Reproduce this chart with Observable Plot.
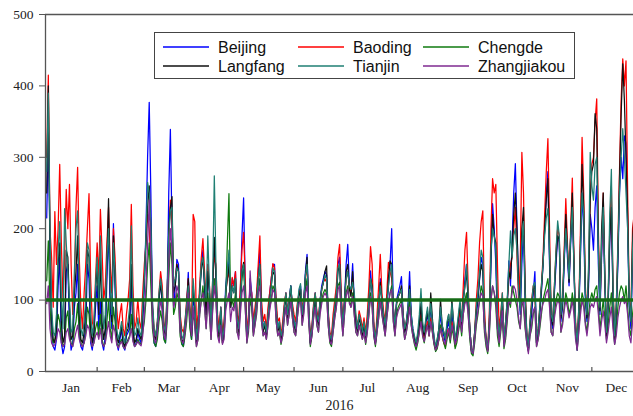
<!DOCTYPE html>
<html><head><meta charset="utf-8">
<script src="https://cdn.jsdelivr.net/npm/d3@7"></script>
<script src="https://cdn.jsdelivr.net/npm/@observablehq/plot@0.6"></script>
<style>
html,body{margin:0;padding:0;background:#fff;overflow:hidden}
#chart{width:633px;height:416px;position:relative}
</style>
</head><body><div id="chart"></div>
<script>
const cities = ["Beijing","Baoding","Chengde","Langfang","Tianjin","Zhangjiakou"];
const cityColors = ["#0000ff","#ff0000","#0f7a0f","#111111","#1f7f73","#7f2a91"];
const monthLabels = ["Jan","Feb","Mar","Apr","May","Jun","Jul","Aug","Sep","Oct","Nov","Dec"];
const yTicks = [0,100,200,300,400,500];
const threshold = 100;
const yearLabel = "2016";

const beijing = [
215,330,180,60,35,30,45,120,160,40,25,35,140,150,60,30,40,90,110,150,50,35,30,45,60,150,130,40,30,50,90,
120,60,100,40,30,50,130,200,90,60,207,120,40,30,45,60,35,30,50,55,60,130,55,35,40,55,45,40,70,
120,200,300,377,250,80,40,35,60,100,130,90,50,40,100,250,339,200,90,120,157,150,60,40,35,60,90,139,70,45,100,
90,40,60,110,150,170,120,80,150,110,60,120,180,140,70,55,90,45,60,120,143,160,90,130,120,140,70,60,110,190,
243,120,45,70,130,110,60,80,100,140,170,90,60,70,55,80,110,130,150,150,90,60,70,45,60,90,110,80,100,120,90,
70,60,90,110,120,80,100,140,164,90,40,60,90,110,80,70,100,120,130,140,135,80,50,40,70,90,110,150,160,100,
60,100,150,178,120,110,151,100,70,60,80,70,55,70,45,70,100,141,110,60,40,70,90,130,100,80,60,90,120,150,200,
90,60,100,110,120,133,80,55,70,90,140,80,60,45,35,50,70,90,60,50,70,80,60,90,70,45,30,40,55,80,60,
50,40,60,70,50,80,60,40,50,70,90,60,100,130,150,100,60,30,25,50,80,100,130,160,150,70,45,30,60,150,
235,200,150,60,45,70,100,40,60,90,155,120,180,250,291,200,120,80,150,200,100,50,30,60,80,110,140,40,50,80,110,
150,200,250,280,150,70,60,110,150,190,180,70,90,150,210,160,120,180,230,150,60,30,80,160,250,200,100,70,120,220,
200,170,230,260,150,80,160,220,120,50,90,180,240,100,40,80,150,250,300,270,330,320,200,90,60,150,200,120,80,60,90];

const baoding = [
300,415,200,160,90,224,150,200,290,180,100,160,255,200,262,150,80,120,230,286,160,90,60,110,150,200,249,130,70,60,130,
180,130,227,170,100,120,180,230,150,110,200,160,90,60,80,95,60,50,80,100,130,234,120,60,70,101,70,60,110,
150,180,220,200,150,90,60,50,70,110,140,120,70,55,110,180,240,210,120,130,150,140,80,60,55,70,100,130,90,60,220,
210,60,80,120,160,186,140,100,150,120,70,130,160,150,80,60,90,55,70,110,130,140,100,132,120,140,80,70,120,170,
195,130,55,80,120,110,70,90,110,150,190,100,70,80,60,90,110,130,151,145,100,70,75,50,70,95,110,85,100,115,95,
80,70,95,110,115,90,100,130,150,90,50,65,95,110,85,75,100,115,125,130,125,85,55,50,80,100,120,160,178,110,
70,100,130,140,120,110,130,100,75,65,85,75,60,75,55,80,120,175,150,70,45,80,120,164,110,85,70,110,153,140,130,
90,65,95,105,110,115,80,60,70,85,110,75,55,45,40,50,65,80,55,45,60,70,50,75,60,40,30,35,45,65,50,
40,35,55,60,45,70,55,35,45,65,90,70,120,170,195,120,60,30,28,55,100,130,180,210,225,90,45,30,80,200,
270,250,262,150,60,80,110,45,70,100,130,150,160,200,230,160,100,150,307,250,120,55,35,70,100,120,110,45,60,90,120,
160,220,280,326,200,80,70,120,170,200,190,80,100,170,242,180,130,200,271,160,70,40,90,200,328,250,120,80,140,250,
290,300,350,382,200,90,170,250,130,60,100,200,260,120,50,90,180,280,380,438,400,435,250,100,80,200,220,150,90,70,100];

const chengde = [
127,183,90,50,40,45,60,80,70,45,35,40,75,85,50,40,35,60,70,95,55,40,35,40,55,90,80,45,35,40,60,
70,50,80,45,35,40,70,100,60,45,90,70,40,35,40,45,35,32,40,45,50,80,45,35,38,45,40,38,55,
70,100,150,180,120,60,40,35,45,70,85,70,45,40,70,130,180,150,80,90,110,100,50,38,35,50,70,100,60,45,80,
70,35,45,80,100,120,90,60,110,80,45,90,130,100,55,45,70,40,50,100,180,249,90,100,90,110,55,50,90,130,
150,90,40,55,100,90,50,65,80,110,130,70,50,55,45,65,90,100,120,115,70,50,55,38,50,75,90,65,80,100,75,
55,50,75,95,105,65,85,115,130,70,35,50,75,95,65,55,85,100,110,115,110,65,40,35,55,75,90,120,125,80,
50,80,110,120,100,90,110,80,55,50,65,55,45,55,38,55,80,110,90,50,35,55,75,100,80,65,50,75,95,110,120,
70,50,80,90,95,100,65,45,55,70,100,65,50,38,30,40,55,75,50,40,55,65,50,70,55,38,28,32,45,65,50,
40,32,45,55,40,60,50,32,40,55,70,50,80,100,110,80,45,25,22,40,65,80,100,120,110,55,35,25,50,100,
120,110,90,50,35,55,80,32,45,70,100,90,120,110,100,90,70,60,100,90,60,40,28,50,60,80,90,35,45,60,80,
100,110,120,130,100,55,50,80,100,110,105,55,70,90,110,100,80,90,110,90,50,30,60,90,110,100,70,55,80,100,
110,100,115,120,90,60,80,100,75,45,65,90,110,70,38,60,90,110,120,115,100,120,90,60,50,80,100,80,60,50,70];

const langfang = [
250,400,170,80,45,40,60,150,180,70,40,50,170,160,90,45,50,110,140,190,80,45,40,55,90,170,160,60,40,55,110,
150,80,160,70,45,60,150,242,110,70,190,130,50,40,50,65,40,35,55,60,80,150,60,40,45,60,50,45,80,
130,180,230,260,200,90,50,45,65,100,125,100,60,50,100,200,230,245,110,120,150,140,70,45,40,65,90,130,80,50,120,
90,40,60,110,140,160,120,80,140,110,55,120,188,130,65,50,85,40,55,110,130,150,90,120,110,130,70,55,100,140,
153,110,45,65,120,100,55,75,100,130,150,80,55,65,50,75,100,120,140,135,85,55,65,45,55,85,105,75,95,120,85,
65,55,85,105,115,75,95,135,160,85,40,55,85,105,75,65,95,115,125,140,148,75,45,40,65,85,105,140,150,95,
60,95,140,150,115,105,140,95,65,55,75,65,50,65,45,65,95,130,120,55,40,65,90,125,95,75,60,90,130,155,150,
85,60,95,105,110,120,75,55,65,85,120,75,55,45,38,50,65,95,60,50,70,85,60,110,75,45,32,45,60,101,65,
55,45,65,80,55,100,70,45,55,75,95,65,100,120,140,100,60,30,28,55,85,105,130,150,140,70,45,30,65,160,
220,190,180,70,45,70,100,40,65,95,140,130,170,220,250,200,120,90,200,230,110,50,30,65,90,115,120,40,55,85,115,
150,200,240,270,160,75,65,115,160,190,185,75,95,160,220,170,125,190,250,150,60,35,85,180,290,230,110,75,130,240,
280,290,361,340,180,85,200,250,130,50,95,190,230,110,43,85,160,270,360,431,380,300,220,95,70,180,225,150,90,65,95];

const tianjin = [
280,390,200,90,55,50,80,170,210,100,60,228,180,140,100,55,60,140,200,225,110,60,50,70,100,180,170,80,50,70,120,
160,100,190,110,60,80,160,200,120,80,180,140,60,45,55,70,50,40,60,70,90,204,80,50,55,75,55,50,90,
130,190,265,250,210,100,60,50,70,110,130,110,65,55,110,190,225,230,120,130,145,140,75,50,45,70,95,120,85,55,130,
95,45,65,110,150,160,130,100,190,120,60,130,274,150,70,55,90,45,60,110,140,170,100,120,110,130,75,60,100,140,
150,110,50,70,120,105,60,80,100,130,150,85,60,70,55,80,100,120,145,140,90,60,70,50,60,90,110,80,100,120,90,
70,60,90,115,123,80,100,135,150,90,45,60,90,110,80,70,100,115,125,135,130,80,50,45,70,90,110,145,150,100,
65,100,130,140,120,115,125,110,80,60,80,70,55,70,50,70,100,130,115,65,45,70,95,120,100,80,65,95,120,140,150,
90,65,95,105,110,115,80,60,70,90,115,80,60,50,40,55,80,116,70,55,75,90,65,95,70,50,35,45,60,90,65,
55,45,70,80,55,95,70,45,60,80,100,70,100,120,150,110,60,30,28,55,90,110,140,170,160,75,45,32,70,170,
200,190,170,80,50,75,110,45,70,100,150,197,160,190,200,170,110,85,180,210,110,55,35,70,95,120,125,45,60,90,120,
150,190,215,228,170,80,70,120,170,211,190,80,100,160,200,170,130,190,230,150,65,40,90,170,250,220,110,80,150,307,
260,240,290,300,170,90,180,230,130,55,100,220,283,120,50,90,170,250,300,340,300,250,200,100,70,170,210,140,90,70,95];

const zhangjiakou = [
95,120,60,40,35,38,45,60,55,40,35,38,55,60,45,38,35,45,55,65,45,38,35,40,50,65,60,45,35,40,50,
55,45,60,40,35,40,55,70,50,40,65,55,38,33,38,42,35,32,38,42,48,60,42,35,38,42,38,36,50,
80,120,180,240,160,70,45,40,55,80,100,85,50,45,80,150,200,170,90,100,120,110,55,42,40,55,80,110,70,50,90,
60,35,45,80,100,110,90,60,100,80,45,85,120,100,50,40,65,38,45,85,100,110,70,90,85,100,55,45,80,110,
120,90,40,60,141,100,50,65,85,110,120,70,50,55,45,65,85,100,115,110,70,50,55,40,50,75,90,65,80,100,75,
55,50,75,95,100,65,80,110,120,70,38,50,75,90,65,55,80,95,105,110,105,65,42,38,55,75,90,115,120,80,
50,80,105,115,95,90,105,80,55,50,65,55,45,55,40,55,80,105,90,50,38,55,75,100,80,65,50,75,95,110,115,
70,50,75,85,90,95,65,45,55,70,90,65,50,40,35,42,55,70,50,42,55,65,50,70,55,40,30,35,45,60,50,
42,38,50,60,45,65,55,38,45,60,75,55,80,95,100,80,50,28,25,45,70,85,100,110,105,60,40,28,55,100,
120,110,100,60,40,60,85,35,50,75,100,95,110,120,115,100,75,60,95,100,65,40,25,50,65,85,90,35,45,65,85,
95,100,110,115,90,55,50,75,90,100,95,55,65,85,100,90,75,85,100,80,45,30,55,80,100,90,65,50,70,90,
95,90,100,105,80,50,70,85,65,40,55,75,90,60,38,50,75,90,100,105,95,100,80,50,40,70,85,65,50,40,60];

const series = [beijing, baoding, chengde, langfang, tianjin, zhangjiakou];
const DAY = 864e5;
const t0 = Date.UTC(2016, 0, 1);
const dateOf = i => new Date(t0 + i * DAY);

const rows = [];
series.forEach((vals, k) => vals.forEach((v, i) => rows.push({city: cities[k], date: dateOf(i), value: v})));

const monthStarts = d3.range(1, 12).map(m => new Date(Date.UTC(2016, m, 1)));
const midMonths = d3.range(0, 12).map(m => new Date(Date.UTC(2016, m, 16)));
const xDomain = [new Date(t0 - 0.74 * DAY), new Date(t0 + 360.6 * DAY)];

const H = 416, MT = 14, MB = 45;
const chart = Plot.plot({
  width: 633,
  height: H,
  marginLeft: 45,
  marginRight: 0,
  marginTop: MT,
  marginBottom: MB,
  style: {fontFamily: "'Liberation Serif', 'Times New Roman', serif", fontSize: "13.5px", color: "#222", background: "#fff"},
  x: {type: "utc", domain: xDomain, axis: null},
  y: {domain: [0, 500], axis: null},
  color: {domain: cities, range: cityColors},
  marks: [
    Plot.line(rows, {x: "date", y: "value", z: "city", stroke: "city", strokeWidth: 1.25, clip: true}),
    Plot.ruleY([threshold], {stroke: "#166b16", strokeWidth: 3.5, clip: true}),
    Plot.ruleY([yTicks[0], yTicks[yTicks.length - 1]], {stroke: "#555", strokeWidth: 1.3}),
    Plot.ruleX([xDomain[0]], {stroke: "#555", strokeWidth: 1.3}),
    Plot.ruleX(monthStarts, {stroke: "#555", strokeWidth: 1.2, insetTop: H - MT - MB - 4}),
    Plot.axisY({ticks: yTicks, tickSize: 6, tickPadding: 6, stroke: "#555", label: null, fontSize: 13.5}),
    Plot.axisX(midMonths, {tickSize: 0, tickPadding: 11, tickFormat: d => monthLabels[d.getUTCMonth()], label: null, fontSize: 13.5}),
    Plot.text([yearLabel], {frameAnchor: "bottom", dy: 38, fontSize: 14, fill: "#222"})
  ]
});
document.getElementById("chart").appendChild(chart);

// legend inside the plot
const svg = d3.select(chart);
const lg = svg.append("g")
  .attr("font-family", "'Liberation Sans', Arial, sans-serif")
  .attr("font-size", 16)
  .attr("text-anchor", "start");
lg.append("rect").attr("x", 154.5).attr("y", 32.5).attr("width", 420).attr("height", 46)
  .attr("fill", "#fff").attr("stroke", "#444").attr("stroke-width", 1);
const colX = [163, 298, 423];
const rowY = [47, 66];
cities.forEach((c, i) => {
  const cx = colX[i % 3], cy = rowY[Math.floor(i / 3)];
  lg.append("line").attr("x1", cx).attr("x2", cx + 46).attr("y1", cy).attr("y2", cy)
    .attr("stroke", cityColors[i]).attr("stroke-width", 1.3);
  lg.append("text").attr("x", cx + 55).attr("y", cy).attr("dy", "0.35em")
    .attr("text-anchor", "start").attr("fill", "#111").text(c);
});
</script>
</body></html>
